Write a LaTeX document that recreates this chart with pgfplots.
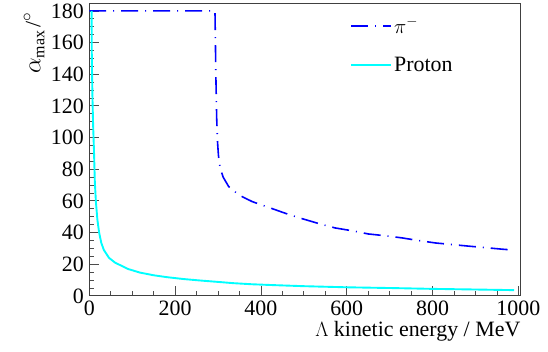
\documentclass[border=0pt]{standalone}
\usepackage{fontspec}
\setmainfont{Liberation Serif}
\usepackage{pgfplots}
\pgfplotsset{compat=1.18}
\definecolor{rootcyan}{RGB}{0,255,255}
\definecolor{rootblue}{RGB}{0,0,255}
\begin{document}
\begin{tikzpicture}
\begin{axis}[
  scale only axis,
  width=431.5bp, height=293bp,
  xmin=0, xmax=1005, ymin=0, ymax=185,
  xtick={0,200,400,600,800,1000},
  ytick={0,20,40,60,80,100,120,140,160,180},
  minor tick num=3,
  tick align=inside,
  xtick pos=bottom, ytick pos=left,
  major tick length=10bp, minor tick length=5bp,
  every tick/.style={black!70, line width=0.8pt},
  axis line style={black!75, line width=0.8pt},
  /pgf/number format/assume math mode=true,
  /pgf/number format/1000 sep={},
  tick label style={font=\fontsize{22}{24}\selectfont},
  xticklabel style={yshift=-2bp},
  yticklabel style={xshift=-2bp},
  xlabel={$\Lambda$ kinetic energy / MeV},
  ylabel={{\fontsize{25}{28}\selectfont$\alpha$}{\fontsize{16}{18}\selectfont\raisebox{-4bp}{max}}\hspace{3bp}{\fontsize{22}{24}\selectfont/}\raisebox{9bp}{\fontsize{17}{18}\selectfont$\circ$}},
  label style={font=\fontsize{22}{24}\selectfont},
  xlabel style={at={(axis description cs:1,-0.138)}, anchor=base east, inner sep=0pt},
  ylabel style={at={(axis description cs:-0.103,0.966)}, anchor=south east, inner sep=0pt},
  legend style={draw=none, fill=none, at={(axis description cs:0.605,0.958)}, anchor=north west,
    font=\fontsize{22}{24}\selectfont, row sep=18bp, inner sep=0pt},
  legend cell align=left,
  legend image code/.code={\draw[#1] (0bp,0bp) -- (30bp,0bp); \path (0bp,0bp) -- (40bp,0bp);},
]
\addplot[rootblue, line width=1.6pt, dash pattern=on 17bp off 7bp on 1bp off 7bp] coordinates {
(0,180) (293,180) (295,140) (297,112) (299,97) (301,89) (303,84) (306,80) (312,75) (325,69)
(350,63.5) (380,59.5) (422,55.5) (468,51.1) (498,48.6) (538,45.4) (573,42.9)
(615,41.0) (650,39.1) (692,37.9) (729,36.6) (768,34.9) (807,33.4) (845,32.4)
(884,31.4) (925,30.4) (961,29.5) (985,29.0)
};
\addlegendentry{$\pi^{-}$}
\addplot[rootcyan, line width=1.9pt] coordinates {
(5.5,180) (6,150) (7.5,125) (9,108) (11,92) (13,72) (15.6,59) (19,48) (23,40)
(28,33.5) (34,29) (46,24) (60,21) (72,19.4) (90,17) (118,14.7) (150,13)
(181,11.8) (220,10.6) (258,9.7) (300,8.8) (336,8.0) (380,7.3) (437,6.7)
(500,6.1) (600,5.4) (709,4.9) (800,4.4) (900,4.0) (990,3.6)
};
\addlegendentry{Proton}
\end{axis}
\pgfresetboundingbox
\useasboundingbox ([xshift=-89.3bp,yshift=-56bp]current axis.south west) rectangle ([xshift=27.5bp,yshift=3bp]current axis.north east);
\end{tikzpicture}
\end{document}
